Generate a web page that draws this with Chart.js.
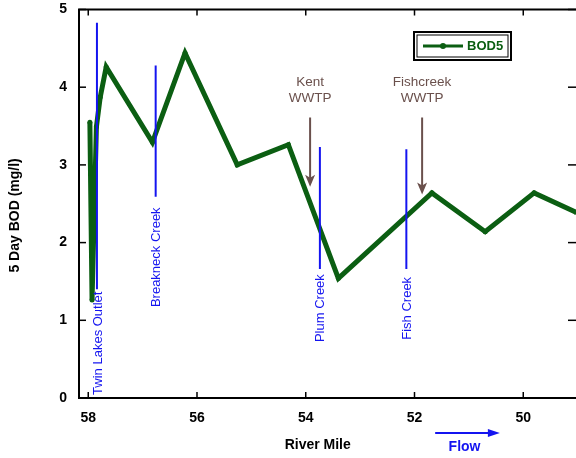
<!DOCTYPE html>
<html>
<head>
<meta charset="utf-8">
<script src="https://cdn.jsdelivr.net/npm/chart.js@4.4.1/dist/chart.umd.min.js"></script>
<style>
  html, body { margin: 0; padding: 0; background: #fff; }
  #wrap { width: 576px; height: 458px; }
</style>
</head>
<body>
<div id="wrap"><canvas id="bodChart"></canvas></div>
<script>
// BOD5 profile along the river (river mile decreasing downstream)
const riverMile = [57.97, 57.93, 57.85, 57.78, 57.67, 56.82, 56.22, 55.26, 54.32, 53.40, 51.68, 50.70, 49.80, 49.03];
const bod5      = [3.55, 1.26, 3.49, 3.87, 4.26, 3.29, 4.44, 3.00, 3.26, 1.54, 2.64, 2.14, 2.64, 2.39];

const xTicks = [58, 56, 54, 52, 50];
const yTicks = [0, 1, 2, 3, 4, 5];

// tributaries (blue marker lines)
const tribNames  = ['Twin Lakes Outlet', 'Breakneck Creek', 'Plum Creek', 'Fish Creek'];
const tribMile   = [57.84, 56.76, 53.74, 52.15];
const tribTop    = [4.83, 4.28, 3.23, 3.20];
const tribBottom = [1.40, 2.59, 1.66, 1.66];

// treatment plants (brown arrows)
const wwtpNames = [['Kent', 'WWTP'], ['Fishcreek', 'WWTP']];
const wwtpMile  = [53.92, 51.86];

const X_MIN = 49.03, X_MAX = 58.17;

const FONT = '"Liberation Sans", Arial, Helvetica, sans-serif';
const GREEN = '#0b5e12';
const BLUE = '#1414f0';
const BROWN = '#6a504c';

const tribSets = tribMile.map((m, i) => ({
    label: tribNames[i],
    data: [{ x: m, y: tribTop[i] }, { x: m, y: tribBottom[i] }],
    showLine: true,
    borderColor: BLUE,
    borderWidth: 2,
    pointRadius: 0
}));

const bodSet = {
    label: 'BOD5',
    data: riverMile.map((m, i) => ({ x: m, y: bod5[i] })),
    showLine: true,
    borderColor: GREEN,
    backgroundColor: GREEN,
    borderWidth: 5,
    pointRadius: 2.5,
    pointBorderWidth: 0,
    tension: 0
};

function seg(ctx, x1, y1, x2, y2) {
    ctx.beginPath();
    ctx.moveTo(x1, y1);
    ctx.lineTo(x2, y2);
    ctx.stroke();
}

const decor = {
    id: 'decor',
    afterDraw(chart) {
        const { ctx, chartArea: a, scales: { x, y } } = chart;
        ctx.save();

        // frame (right side falls off the picture)
        ctx.strokeStyle = '#000';
        ctx.lineWidth = 2;
        ctx.beginPath();
        ctx.moveTo(a.right + 2, a.top);
        ctx.lineTo(a.left, a.top);
        ctx.lineTo(a.left, a.bottom);
        ctx.lineTo(a.right + 2, a.bottom);
        ctx.stroke();

        // inward ticks on all sides
        ctx.lineWidth = 1.5;
        xTicks.forEach(v => {
            const px = x.getPixelForValue(v);
            seg(ctx, px, a.bottom, px, a.bottom - 6);
            seg(ctx, px, a.top, px, a.top + 6);
        });
        yTicks.forEach(v => {
            const py = y.getPixelForValue(v);
            seg(ctx, a.left, py, a.left + 7, py);
            seg(ctx, a.right, py, a.right - 8, py);
        });

        // tributary names, rotated
        ctx.fillStyle = BLUE;
        ctx.font = '13px ' + FONT;
        ctx.textAlign = 'left';
        ctx.textBaseline = 'middle';
        const labelBase = [0.04, 1.17, 0.72, 0.75];
        tribNames.forEach((t, i) => {
            ctx.save();
            ctx.translate(x.getPixelForValue(tribMile[i]) + 1, y.getPixelForValue(labelBase[i]));
            ctx.rotate(-Math.PI / 2);
            ctx.fillText(t, 0, 0);
            ctx.restore();
        });

        // WWTP labels + arrows
        ctx.fillStyle = BROWN;
        ctx.strokeStyle = BROWN;
        ctx.textAlign = 'center';
        ctx.font = '13.5px ' + FONT;
        wwtpNames.forEach((lines, i) => {
            const px = x.getPixelForValue(wwtpMile[i]);
            ctx.fillText(lines[0], px, y.getPixelForValue(4.06));
            ctx.fillText(lines[1], px, y.getPixelForValue(3.86));
            const top = y.getPixelForValue(3.61);
            const tip = y.getPixelForValue(i === 0 ? 2.72 : 2.62);
            ctx.lineWidth = 2;
            seg(ctx, px, top, px, tip - 8);
            ctx.beginPath();
            ctx.moveTo(px, tip);
            ctx.lineTo(px - 5, tip - 12);
            ctx.lineTo(px, tip - 9);
            ctx.lineTo(px + 5, tip - 12);
            ctx.closePath();
            ctx.fill();
        });

        // axis titles
        ctx.fillStyle = '#000';
        ctx.font = 'bold 14px ' + FONT;
        ctx.save();
        ctx.translate(15, y.getPixelForValue(2.35));
        ctx.rotate(-Math.PI / 2);
        ctx.fillText('5 Day BOD (mg/l)', 0, 0);
        ctx.restore();
        ctx.fillText('River Mile', x.getPixelForValue(53.78), a.bottom + 47);

        // flow arrow
        ctx.fillStyle = BLUE;
        ctx.strokeStyle = BLUE;
        ctx.fillText('Flow', x.getPixelForValue(51.08), a.bottom + 49);
        const fy = a.bottom + 35;
        const fx1 = x.getPixelForValue(51.62), fx2 = x.getPixelForValue(50.43);
        ctx.lineWidth = 2;
        seg(ctx, fx1, fy, fx2 - 6, fy);
        ctx.beginPath();
        ctx.moveTo(fx2, fy);
        ctx.lineTo(fx2 - 12, fy - 4);
        ctx.lineTo(fx2 - 12, fy + 4);
        ctx.closePath();
        ctx.fill();

        // legend box
        const lx = 414, ly = 32, lw = 97, lh = 28;
        ctx.strokeStyle = '#000';
        ctx.lineWidth = 2;
        ctx.strokeRect(lx, ly, lw, lh);
        ctx.lineWidth = 1;
        ctx.strokeRect(lx + 3, ly + 3, lw - 6, lh - 6);
        ctx.strokeStyle = GREEN;
        ctx.fillStyle = GREEN;
        ctx.lineWidth = 3;
        seg(ctx, lx + 9, ly + 14, lx + 49, ly + 14);
        ctx.beginPath();
        ctx.arc(lx + 29, ly + 14, 3, 0, Math.PI * 2);
        ctx.fill();
        ctx.font = 'bold 13px ' + FONT;
        ctx.textAlign = 'left';
        ctx.fillText('BOD5', lx + 53, ly + 14.5);

        ctx.restore();
    }
};

const TICK_FONT = { family: FONT, size: 14, weight: 'bold' };

new Chart(document.getElementById('bodChart'), {
    type: 'scatter',
    data: { datasets: [...tribSets, bodSet] },
    options: {
        responsive: true,
        maintainAspectRatio: false,
        animation: false,
        layout: { autoPadding: false, padding: { top: 9.5, right: 0, left: 0, bottom: 0 } },
        plugins: { legend: { display: false }, tooltip: { enabled: false } },
        scales: {
            x: {
                type: 'linear',
                reverse: true,
                min: X_MIN,
                max: X_MAX,
                afterBuildTicks: s => { s.ticks = xTicks.map(v => ({ value: v })); },
                afterFit: s => { s.height = 60; s.paddingLeft = 0; s.paddingRight = 0; },
                grid: { display: false, drawTicks: false },
                border: { display: false },
                ticks: { padding: 12, color: '#000', font: TICK_FONT }
            },
            y: {
                min: 0,
                max: 5,
                afterBuildTicks: s => { s.ticks = yTicks.map(v => ({ value: v })); },
                afterFit: s => { s.width = 79; s.paddingTop = 0; s.paddingBottom = 0; },
                grid: { display: false, drawTicks: false },
                border: { display: false },
                ticks: { padding: 12, color: '#000', font: TICK_FONT }
            }
        }
    },
    plugins: [decor]
});
</script>
</body>
</html>
